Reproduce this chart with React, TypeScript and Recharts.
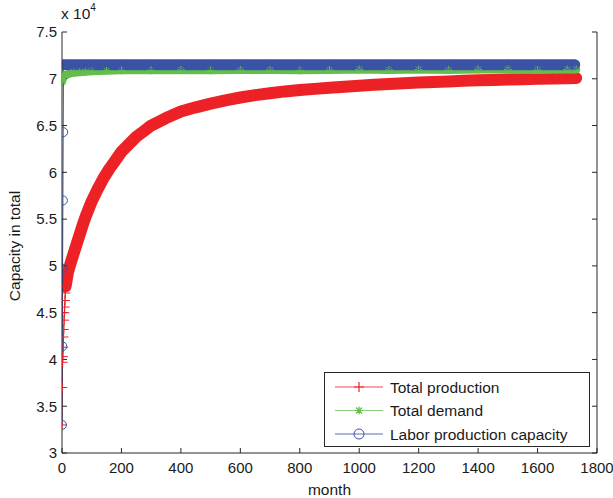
import { LineChart, Line, XAxis, YAxis } from "recharts";

const FONT = "'Liberation Sans', Arial, Helvetica, sans-serif";
const RED = "#ed2226";
const GREEN = "#63be4a";
const BLUE = "#3a53a4";
const AXIS = "#262626";

// Total production (months 0-12 are the separate early points)
const productionMonths = [
  0, 1, 2, 3, 4, 5, 6, 7, 8, 9, 10, 11, 12, 20, 30, 40, 50, 60, 70, 80, 90, 100, 120, 140, 160, 180,
  200, 225, 250, 275, 300, 350, 400, 450, 500, 550, 600, 650, 700, 750, 800, 850, 900, 950, 1000,
  1050, 1100, 1150, 1200, 1250, 1300, 1350, 1400, 1450, 1500, 1550, 1600, 1650, 1700, 1730,
];
const productionValues = [
  33000, 37000, 39700, 40300, 41300, 42400, 43200, 44200, 45000, 45600, 46300, 47100, 47800, 49300,
  50400, 51400, 52400, 53400, 54400, 55300, 56100, 56900, 58200, 59400, 60400, 61300, 62200, 63000,
  63800, 64400, 65000, 65800, 66500, 66950, 67350, 67700, 68000, 68250, 68450, 68650, 68800, 68920,
  69030, 69150, 69260, 69360, 69450, 69530, 69600, 69660, 69720, 69780, 69830, 69880, 69920, 69960,
  70000, 70030, 70060, 70080,
];

// Total demand
const demandMonths = [
  0, 1, 2, 3, 4, 5, 10, 20, 30, 40, 60, 80, 100, 150, 200, 300, 400, 500, 600, 700, 800, 900, 1000,
  1100, 1200, 1300, 1400, 1500, 1600, 1700, 1730,
];
const demandValues = [
  69700, 70200, 69900, 70300, 70100, 70400, 70300, 70500, 70600, 70650, 70700, 70750, 70800, 70850,
  70900, 70900, 70950, 70900, 70950, 70950, 70900, 70950, 71000, 70950, 71000, 70950, 71000, 71000,
  70950, 71000, 71000,
];

// Labor production capacity
const laborMonths = [
  0, 1, 2, 3, 4, 5, 100, 200, 300, 400, 500, 600, 700, 800, 900, 1000, 1100, 1200, 1300, 1400, 1500,
  1600, 1700, 1725,
];
const laborValues = [
  33000, 41400, 49700, 57000, 64300, 71500, 71500, 71500, 71500, 71500, 71500, 71500, 71500, 71500,
  71500, 71500, 71500, 71500, 71500, 71500, 71500, 71500, 71500, 71500,
];

const xTicks = [0, 200, 400, 600, 800, 1000, 1200, 1400, 1600, 1800];
const yTicks = [30000, 35000, 40000, 45000, 50000, 55000, 60000, 65000, 70000, 75000];

const legendItems = [
  { label: "Total production", color: "#ef4a4a", marker: "plus" },
  { label: "Total demand", color: "#8ccf7a", marker: "star" },
  { label: "Labor production capacity", color: "#5a6fb8", marker: "circle" },
];

const rows = (months: number[], values: number[]) =>
  months.map((m, i) => ({ m, v: values[i] }));

const productionData = rows(productionMonths, productionValues);
const demandData = rows(demandMonths, demandValues);
const laborData = rows(laborMonths, laborValues);
// the thick marker band only starts once the points crowd together
const productionBand = productionData.filter((d) => d.m >= 12);
const laborBand = laborData.filter((d) => d.m >= 5);

const PlusDot = (p: any) => {
  if (p.cx == null || p.cy == null) return <g key={p.index} />;
  return (
    <path
      key={p.index}
      d={`M${p.cx - 5},${p.cy}h10M${p.cx},${p.cy - 5}v10`}
      stroke={RED}
      strokeWidth={1}
      fill="none"
    />
  );
};

const StarDot = (p: any) => {
  if (p.cx == null || p.cy == null) return <g key={p.index} />;
  const r = 4;
  const d = 2.9;
  return (
    <path
      key={p.index}
      d={`M${p.cx - r},${p.cy}h${2 * r}M${p.cx},${p.cy - r}v${2 * r}M${p.cx - d},${p.cy - d}l${2 * d},${2 * d}M${p.cx - d},${p.cy + d}l${2 * d},${-2 * d}`}
      stroke={GREEN}
      strokeWidth={1}
      fill="none"
    />
  );
};

const CircleDot = (p: any) => {
  if (p.cx == null || p.cy == null) return <g key={p.index} />;
  return <circle key={p.index} cx={p.cx} cy={p.cy} r={4.5} fill="none" stroke={BLUE} strokeWidth={1} />;
};

function LegendBox() {
  return (
    <svg width={266} height={75} style={{ display: "block" }}>
      <rect x={0.5} y={0.5} width={265} height={74} fill="#fff" stroke={AXIS} strokeWidth={1} />
      {legendItems.map((it, i) => {
        const y = 15 + i * 23.5;
        const cx = 35;
        return (
          <g key={it.label}>
            <line x1={11} x2={59} y1={y} y2={y} stroke={it.color} strokeWidth={1} />
            {it.marker === "plus" && (
              <path d={`M${cx - 5},${y}h10M${cx},${y - 5}v10`} stroke={RED} strokeWidth={1.2} />
            )}
            {it.marker === "star" && (
              <path
                d={`M${cx - 4},${y}h8M${cx},${y - 4}v8M${cx - 3},${y - 3}l6,6M${cx - 3},${y + 3}l6,-6`}
                stroke={GREEN}
                strokeWidth={1.2}
              />
            )}
            {it.marker === "circle" && (
              <circle cx={cx} cy={y} r={5} fill="none" stroke={BLUE} strokeWidth={1} />
            )}
            <text x={66} y={y + 5.5} fontSize={15.5} fill="#1a1a1a" fontFamily={FONT}>
              {it.label}
            </text>
          </g>
        );
      })}
    </svg>
  );
}

export default function App() {
  const tickStyle = { fontSize: 15, fill: "#1a1a1a", fontFamily: FONT };
  const labelStyle = { fontSize: 15.5, fill: "#1a1a1a", fontFamily: FONT };
  return (
    <div style={{ position: "absolute", left: 0, top: 0, width: 613, height: 498, background: "#fff" }}>
      <LineChart
        width={613}
        height={498}
        margin={{ top: 32, right: 0, bottom: 0, left: 0 }}
        style={{ fontFamily: FONT }}
      >
        <XAxis
          xAxisId="b"
          dataKey="m"
          type="number"
          domain={[0, 1800]}
          ticks={xTicks}
          allowDataOverflow
          height={45}
          tickSize={-5}
          tickMargin={14}
          tick={tickStyle}
          stroke={AXIS}
          label={{ value: "month", position: "insideBottom", offset: 3, style: labelStyle }}
        />
        <XAxis
          xAxisId="t"
          orientation="top"
          dataKey="m"
          type="number"
          domain={[0, 1800]}
          ticks={xTicks}
          allowDataOverflow
          height={0}
          tickSize={-5}
          tickFormatter={() => ""}
          stroke={AXIS}
        />
        <YAxis
          yAxisId="l"
          type="number"
          domain={[30000, 75000]}
          ticks={yTicks}
          allowDataOverflow
          width={62}
          tickSize={-5}
          tickMargin={10}
          tick={tickStyle}
          tickFormatter={(v: number) => String(v / 10000)}
          stroke={AXIS}
        />
        <YAxis
          yAxisId="r"
          orientation="right"
          type="number"
          domain={[30000, 75000]}
          ticks={yTicks}
          allowDataOverflow
          width={16}
          tickSize={-5}
          tickFormatter={() => ""}
          stroke={AXIS}
        />

        <Line
          xAxisId="b"
          yAxisId="l"
          data={productionBand}
          dataKey="v"
          stroke={RED}
          strokeWidth={12}
          strokeLinecap="round"
          strokeLinejoin="round"
          dot={false}
          activeDot={false}
          legendType="none"
          isAnimationActive={false}
        />
        <Line
          xAxisId="b"
          yAxisId="l"
          data={productionData}
          dataKey="v"
          stroke={RED}
          strokeWidth={1}
          dot={PlusDot}
          activeDot={false}
          legendType="none"
          isAnimationActive={false}
        />
        <Line
          xAxisId="b"
          yAxisId="l"
          data={demandData}
          dataKey="v"
          stroke={GREEN}
          strokeWidth={8}
          strokeLinecap="round"
          strokeLinejoin="round"
          dot={StarDot}
          activeDot={false}
          legendType="none"
          isAnimationActive={false}
        />
        <Line
          xAxisId="b"
          yAxisId="l"
          data={laborBand}
          dataKey="v"
          stroke={BLUE}
          strokeWidth={11}
          strokeLinecap="round"
          dot={false}
          activeDot={false}
          legendType="none"
          isAnimationActive={false}
        />
        <Line
          xAxisId="b"
          yAxisId="l"
          data={laborData}
          dataKey="v"
          stroke={BLUE}
          strokeWidth={1}
          dot={CircleDot}
          activeDot={false}
          legendType="none"
          isAnimationActive={false}
        />
      </LineChart>
      <div style={{ position: "absolute", left: 324, top: 372 }}>
        <LegendBox />
      </div>
      <div
        style={{
          position: "absolute",
          left: 61,
          top: 4,
          fontFamily: FONT,
          fontSize: 15.5,
          color: "#1a1a1a",
          whiteSpace: "nowrap",
        }}
      >
        x 10<sup style={{ fontSize: 10, position: "relative", top: -2 }}>4</sup>
      </div>
      <div
        style={{
          position: "absolute",
          left: 15,
          top: 246,
          fontFamily: FONT,
          fontSize: 15.5,
          color: "#1a1a1a",
          whiteSpace: "nowrap",
          transform: "translate(-50%, -50%) rotate(-90deg)",
        }}
      >
        Capacity in total
      </div>
    </div>
  );
}
